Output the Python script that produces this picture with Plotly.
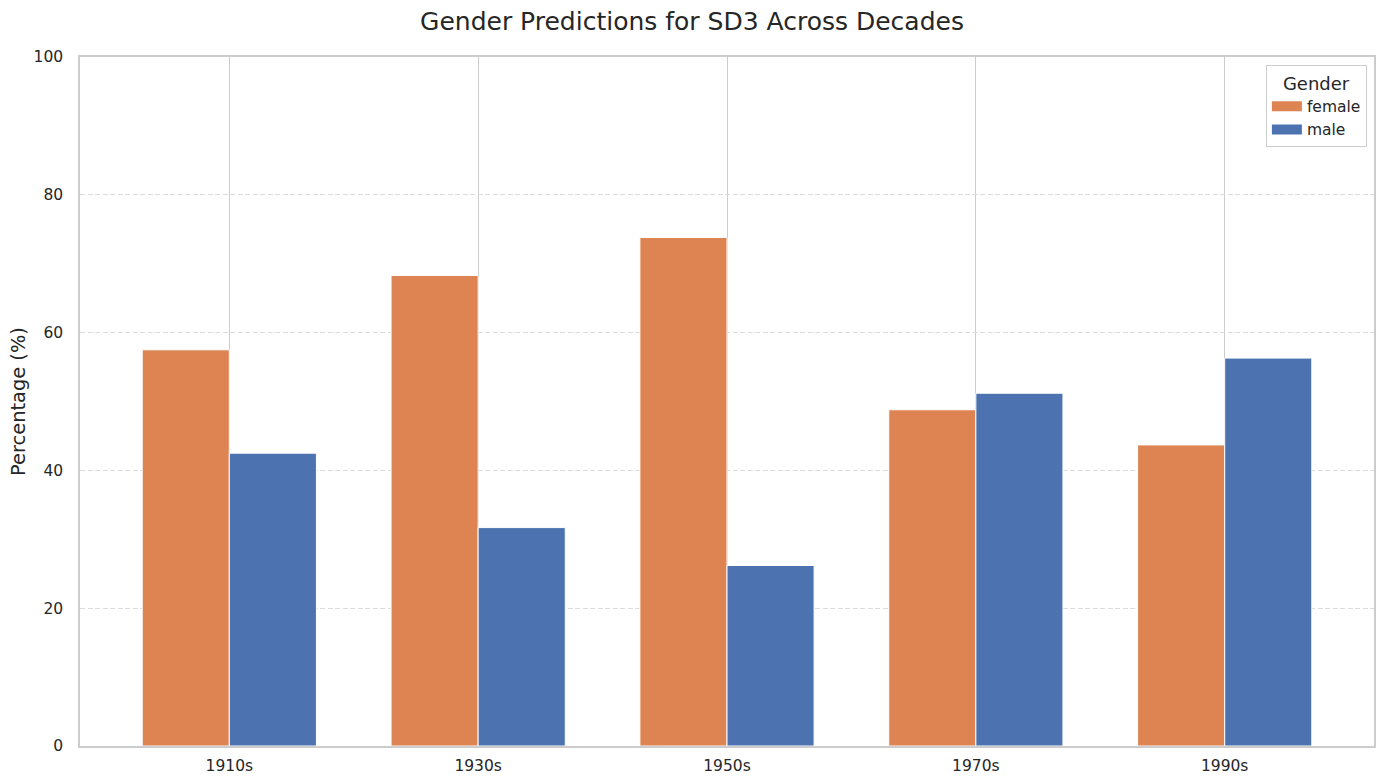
import plotly.graph_objects as go

decades = ["1910s", "1930s", "1950s", "1970s", "1990s"]
female = [57.5, 68.3, 73.8, 48.8, 43.7]
male = [42.5, 31.7, 26.2, 51.2, 56.3]
series = [("female", female, "#DD8452"), ("male", male, "#4C72B0")]

FONT = "DejaVu Sans"
fig = go.Figure()
for name, vals, col in series:
    fig.add_trace(go.Bar(name=name, x=decades, y=vals, showlegend=False, legendgroup=name,
                         marker=dict(color=col, line=dict(color="white", width=1))))
for name, vals, col in series:
    fig.add_trace(go.Scatter(name=name, x=[None], y=[None], mode="lines", legendgroup=name,
                             line=dict(color=col, width=10), showlegend=True))

fig.update_layout(
    width=1384, height=784,
    barmode="group", bargap=0.3, bargroupgap=0,
    paper_bgcolor="white", plot_bgcolor="white",
    font=dict(family=FONT, color="#262626", size=15.5),
    margin=dict(l=80, r=10, t=57, b=38),
    title=dict(text="Gender Predictions for SD3 Across Decades", x=0.5, xanchor="center",
               y=1 - 21 / 784, yanchor="middle", font=dict(size=25, family=FONT, color="#262626")),
    xaxis=dict(type="category", range=[-0.6, 4.6], showgrid=True, gridcolor="#cccccc", gridwidth=1,
               showline=True, linecolor="#cccccc", linewidth=1.5, mirror=True, automargin=False,
               ticks="", tickfont=dict(size=15.5), ticklabelstandoff=5),
    yaxis=dict(range=[0, 100], tickvals=[0, 20, 40, 60, 80, 100], automargin=False,
               showgrid=True, gridcolor="#dcdcdc", gridwidth=1.2, griddash="5px,2.5px",
               showline=True, linecolor="#cccccc", linewidth=1.5, mirror=True,
               zeroline=False, ticks="", tickfont=dict(size=15.5), ticklabelstandoff=12,
               title=dict(text="Percentage (%)", font=dict(size=19.4), standoff=3)),
    legend=dict(title=dict(text="Gender", side="top center", font=dict(size=18)),
                x=0.9945, xanchor="right", y=0.988, yanchor="top",
                bordercolor="#cccccc", borderwidth=1, bgcolor="white",
                font=dict(size=15.5), tracegroupgap=0, itemwidth=30),
)
fig.write_html("out.html", config={"displayModeBar": False},
               post_script="document.body.style.margin='0';")
